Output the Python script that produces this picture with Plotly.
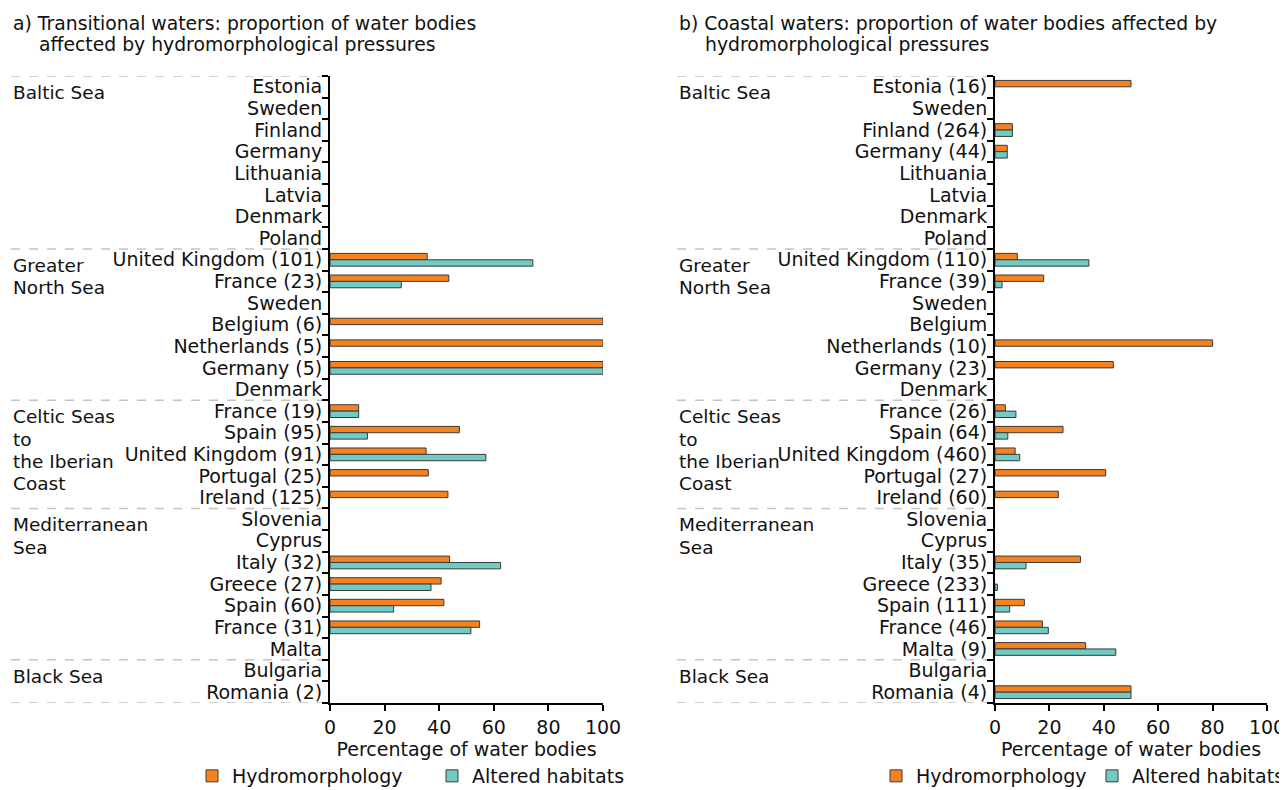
import plotly.graph_objects as go

# ---------------- data ----------------
regions = [["Baltic Sea"], ["Greater", "North Sea"], ["Celtic Seas", "to", "the Iberian", "Coast"],
           ["Mediterranean", "Sea"], ["Black Sea"]]
region_sizes = [8, 7, 5, 7, 2]

trans_labels = ["Estonia", "Sweden", "Finland", "Germany", "Lithuania", "Latvia", "Denmark", "Poland",
                "United Kingdom (101)", "France (23)", "Sweden", "Belgium (6)", "Netherlands (5)", "Germany (5)", "Denmark",
                "France (19)", "Spain (95)", "United Kingdom (91)", "Portugal (25)", "Ireland (125)",
                "Slovenia", "Cyprus", "Italy (32)", "Greece (27)", "Spain (60)", "France (31)", "Malta",
                "Bulgaria", "Romania (2)"]
trans_hydro = [None, None, None, None, None, None, None, None,
               35.6, 43.5, None, 100, 100, 100, None,
               10.5, 47.4, 35.2, 36.0, 43.2,
               None, None, 43.8, 40.7, 41.7, 54.8, None,
               None, None]
trans_altered = [None, None, None, None, None, None, None, None,
                 74.3, 26.1, None, None, None, 100, None,
                 10.5, 13.7, 57.1, None, None,
                 None, None, 62.5, 37.0, 23.3, 51.6, None,
                 None, None]

coast_labels = ["Estonia (16)", "Sweden", "Finland (264)", "Germany (44)", "Lithuania", "Latvia", "Denmark", "Poland",
                "United Kingdom (110)", "France (39)", "Sweden", "Belgium", "Netherlands (10)", "Germany (23)", "Denmark",
                "France (26)", "Spain (64)", "United Kingdom (460)", "Portugal (27)", "Ireland (60)",
                "Slovenia", "Cyprus", "Italy (35)", "Greece (233)", "Spain (111)", "France (46)", "Malta (9)",
                "Bulgaria", "Romania (4)"]
coast_hydro = [50.0, None, 6.4, 4.5, None, None, None, None,
               8.2, 17.9, None, None, 80.0, 43.5, None,
               3.8, 25.0, 7.4, 40.7, 23.3,
               None, None, 31.4, None, 10.8, 17.4, 33.3,
               None, 50.0]
coast_altered = [None, None, 6.4, 4.5, None, None, None, None,
                 34.5, 2.6, None, None, None, None, None,
                 7.7, 4.7, 9.1, None, None,
                 None, None, 11.4, 0.9, 5.4, 19.6, 44.4,
                 None, 50.0]

x_ticks = [0, 20, 40, 60, 80, 100]
series_names = ["Hydromorphology", "Altered habitats"]

# ---------------- style ----------------
FONT = "DejaVu Sans"
FS = 19
ORANGE = "#F58220"
TEAL = "#70CBC4"
EDGE = "#3a3a3a"
TXT = "#111"
OFF = 8                       # page body margin
W, H = 1287 - OFF, 790 - OFF  # figure size inside the page


def fx(px):  # page pixel -> paper fraction (x)
    return (px - OFF) / W


def fy(py):  # page pixel -> paper fraction (y)
    return 1 - (py - OFF) / H


left_dom = [fx(330), fx(603)]
right_dom = [fx(995), fx(1267)]
y_dom = [fy(703), fy(76)]

n = len(trans_labels)
pos = list(range(n))

fig = go.Figure()

panels = [
    (trans_labels, trans_hydro, trans_altered, "x", "y", ("legend", "legend2")),
    (coast_labels, coast_hydro, coast_altered, "x2", "y2", ("legend3", "legend4")),
]
for labels, hydro, altered, xa, ya, lgs in panels:
    for name, vals, col, lg in [(series_names[0], hydro, ORANGE, lgs[0]),
                                (series_names[1], altered, TEAL, lgs[1])]:
        fig.add_trace(go.Bar(
            y=pos, x=vals, name=name, orientation="h",
            marker=dict(color=col, line=dict(color=EDGE, width=1)),
            xaxis=xa, yaxis=ya, legend=lg, hoverinfo="x+name",
        ))

bounds = [i - 0.5 for i in range(n + 1)]


def yaxis(labels, domain, anchor):
    return dict(
        domain=domain, anchor=anchor, range=[n - 0.5, -0.5], automargin=False,
        tickmode="array", tickvals=pos, ticktext=labels, ticks="",
        ticklabelstandoff=2,
        showline=True, linecolor="black", linewidth=2,
        showgrid=False, zeroline=False,
        tickfont=dict(family=FONT, size=FS, color=TXT),
        minor=dict(tickmode="array", tickvals=bounds, ticks="outside",
                   ticklen=6, tickwidth=1.5, tickcolor="black", showgrid=False),
    )


def xaxis(domain, anchor):
    return dict(
        domain=domain, anchor=anchor, range=[0, 100], automargin=False,
        tickmode="array", tickvals=x_ticks, ticks="outside", ticklen=6,
        tickwidth=1.5, tickcolor="black",
        showline=True, linecolor="black", linewidth=2,
        showgrid=False, zeroline=False,
        tickfont=dict(family=FONT, size=FS, color=TXT),
        title=dict(text="Percentage of water bodies",
                   font=dict(family=FONT, size=FS, color=TXT), standoff=3),
    )


def leg(xpx):
    return dict(orientation="h", x=fx(xpx), y=fy(776), xanchor="left", yanchor="middle",
                font=dict(family=FONT, size=FS, color=TXT), bgcolor="rgba(0,0,0,0)",
                borderwidth=0)


fig.update_layout(
    template="none",
    width=W, height=H, autosize=False,
    margin=dict(l=0, r=0, t=0, b=0, pad=0, autoexpand=False),
    paper_bgcolor="white", plot_bgcolor="white",
    barmode="group", bargap=0.41, bargroupgap=0,
    font=dict(family=FONT, size=FS, color=TXT),
    xaxis=xaxis(left_dom, "y"),
    yaxis=yaxis(trans_labels, y_dom, "x"),
    xaxis2=xaxis(right_dom, "y2"),
    yaxis2=yaxis(coast_labels, y_dom, "x2"),
    legend=leg(192),
    legend2=leg(432),
    legend3=leg(876),
    legend4=leg(1092),
    showlegend=True,
)

# region separators and region labels
shapes = []
annotations = []
for dom, yref, lx in [(left_dom, "y", fx(11)), (right_dom, "y2", fx(677))]:
    start = 0
    cut = [-0.5]
    for lines, size in zip(regions, region_sizes):
        for i, line in enumerate(lines):
            annotations.append(dict(
                x=lx, xref="paper", y=start - 0.5, yref=yref, yanchor="middle", xanchor="left",
                yshift=-(16.5 + 22.3 * i), text=line, showarrow=False, align="left",
                font=dict(family=FONT, size=FS - 0.5, color=TXT),
            ))
        start += size
        cut.append(start - 0.5)
    for c in cut:
        shapes.append(dict(type="line", xref="paper", yref=yref, x0=lx, x1=dom[0], y0=c, y1=c,
                           line=dict(color="#c4c4c4", width=1.5, dash="dash"), layer="below"))

# panel titles
titles = [
    ("a) Transitional waters: proportion of water bodies", 11, 23),
    ("affected by hydromorphological pressures", 37, 45),
    ("b) Coastal waters: proportion of water bodies affected by", 677, 23),
    ("hydromorphological pressures", 703, 45),
]
for txt, px, py in titles:
    annotations.append(dict(x=fx(px), y=fy(py), xref="paper", yref="paper",
                            xanchor="left", yanchor="middle", text=txt, showarrow=False,
                            font=dict(family=FONT, size=FS - 0.2, color=TXT)))

fig.update_layout(shapes=shapes, annotations=annotations)

fig.write_html("out.html")
